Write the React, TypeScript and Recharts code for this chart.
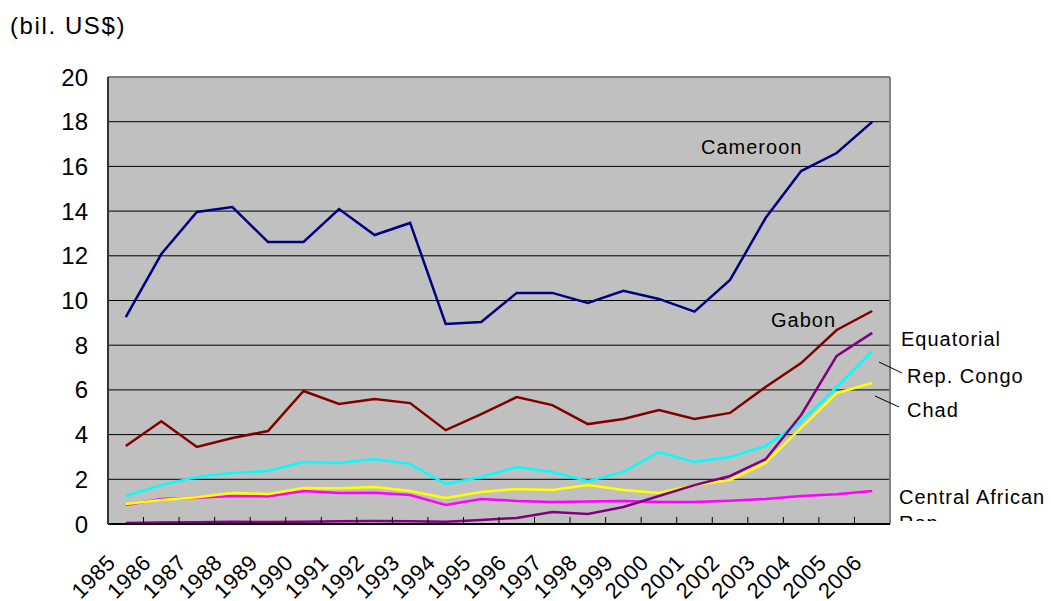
import { ComposedChart, Line, XAxis, YAxis, CartesianGrid, Customized } from 'recharts';

const years = [
  '1985', '1986', '1987', '1988', '1989', '1990', '1991', '1992', '1993', '1994', '1995',
  '1996', '1997', '1998', '1999', '2000', '2001', '2002', '2003', '2004', '2005', '2006',
];

const cameroon = [9.26, 12.08, 13.96, 14.18, 12.62, 12.62, 14.09, 12.93, 13.47, 8.95, 9.04,
  10.34, 10.34, 9.89, 10.43, 10.07, 9.5, 10.92, 13.69, 15.79, 16.6, 17.99];
const gabon = [3.49, 4.6, 3.45, 3.85, 4.16, 5.95, 5.37, 5.59, 5.41, 4.2, 4.92,
  5.68, 5.32, 4.47, 4.7, 5.1, 4.7, 4.97, 6.13, 7.2, 8.68, 9.53];
const equatorialGuinea = [0.05, 0.07, 0.08, 0.1, 0.09, 0.1, 0.12, 0.13, 0.12, 0.1, 0.18,
  0.27, 0.54, 0.45, 0.76, 1.25, 1.74, 2.15, 2.9, 4.88, 7.52, 8.55];
const repCongo = [1.25, 1.74, 2.1, 2.28, 2.37, 2.77, 2.73, 2.91, 2.68, 1.79, 2.1,
  2.55, 2.33, 1.92, 2.33, 3.22, 2.77, 3.0, 3.49, 4.6, 6.13, 7.74];
const chad = [0.89, 1.07, 1.2, 1.39, 1.34, 1.61, 1.6, 1.66, 1.48, 1.16, 1.43,
  1.57, 1.52, 1.74, 1.52, 1.39, 1.74, 1.97, 2.73, 4.3, 5.86, 6.31];
const centralAfrican = [0.85, 1.12, 1.18, 1.25, 1.23, 1.48, 1.39, 1.4, 1.3, 0.85, 1.12,
  1.03, 0.98, 1.01, 1.03, 0.98, 0.98, 1.04, 1.12, 1.25, 1.33, 1.48];

const yTicks = [0, 2, 4, 6, 8, 10, 12, 14, 16, 18, 20];

const data = years.map((year, i) => ({
  year,
  cameroon: cameroon[i],
  gabon: gabon[i],
  eq: equatorialGuinea[i],
  congo: repCongo[i],
  chad: chad[i],
  car: centralAfrican[i],
}));

const W = 1051;
const H = 601;
const LEFT = 108;
const RIGHT = 890;
const TOP = 77;
const BOTTOM = 524;
const BAND = (RIGHT - LEFT) / years.length;
const FONT = '"Liberation Sans", Arial, sans-serif';

const XTick = (props: any) => {
  const { x, payload, index } = props;
  return (
    <g>
      {index < years.length - 1 && (
        <line x1={x + BAND / 2} y1={BOTTOM} x2={x + BAND / 2} y2={BOTTOM - 7} stroke="#000" strokeWidth={1} />
      )}
      <text
        transform={`translate(${x - 9},${BOTTOM + 40}) rotate(-45)`}
        textAnchor="end"
        fontSize={22}
        fontFamily={FONT}
        fill="#000"
        letterSpacing={0.5}
      >
        {payload.value}
      </text>
    </g>
  );
};

const Notes = () => (
  <g fontFamily={FONT} fontSize={20} fill="#000" letterSpacing={1}>
    <defs>
      <clipPath id="carClip">
        <rect x={0} y={0} width={W} height={521} />
      </clipPath>
    </defs>
    <line x1={LEFT} y1={TOP} x2={RIGHT} y2={TOP} stroke="#808080" strokeWidth={2} />
    <line x1={RIGHT} y1={TOP} x2={RIGHT} y2={BOTTOM} stroke="#808080" strokeWidth={2} />
    <text x={701} y={154}>Cameroon</text>
    <text x={771} y={327}>Gabon</text>
    <text x={901} y={346}>Equatorial</text>
    <text x={907} y={383}>Rep. Congo</text>
    <text x={907} y={417}>Chad</text>
    <text x={899} y={504}>Central African</text>
    <text x={899} y={530} clipPath="url(#carClip)">Rep.</text>
    <line x1={879} y1={362} x2={902} y2={373} stroke="#000" strokeWidth={1} />
    <line x1={875} y1={396} x2={899} y2={407} stroke="#000" strokeWidth={1} />
  </g>
);

export default function App() {
  return (
    <div style={{ position: 'absolute', left: 0, top: 0, width: W, height: H, background: '#fff' }}>
      <div
        style={{
          position: 'absolute',
          left: 10,
          top: 12,
          fontFamily: FONT,
          fontSize: 24,
          color: '#000',
          letterSpacing: 1.6,
        }}
      >
        (bil. US$)
      </div>
      <ComposedChart
        width={W}
        height={H}
        data={data}
        margin={{ top: TOP, right: W - RIGHT, bottom: 0, left: 0 }}
      >
        <CartesianGrid vertical={false} stroke="#000" fill="#C0C0C0" fillOpacity={1} horizontalValues={yTicks} />
        <XAxis
          dataKey="year"
          height={H - BOTTOM}
          interval={0}
          padding={{ left: BAND / 2, right: BAND / 2 }}
          tickLine={false}
          axisLine={{ stroke: '#000', strokeWidth: 2 }}
          tick={<XTick />}
        />
        <YAxis
          width={LEFT}
          domain={[0, 20]}
          ticks={yTicks}
          interval={0}
          tickLine={false}
          tickMargin={14}
          axisLine={{ stroke: '#333', strokeWidth: 2 }}
          tick={{ fontSize: 24, fontFamily: FONT, fill: '#000' }}
        />
        <Line dataKey="car" stroke="#FF00FF" strokeWidth={2.5} dot={false} isAnimationActive={false} />
        <Line dataKey="chad" stroke="#FFFF00" strokeWidth={2.5} dot={false} isAnimationActive={false} />
        <Line dataKey="congo" stroke="#00FFFF" strokeWidth={2.5} dot={false} isAnimationActive={false} />
        <Line dataKey="eq" stroke="#800080" strokeWidth={2.5} dot={false} isAnimationActive={false} />
        <Line dataKey="gabon" stroke="#800000" strokeWidth={2.5} dot={false} isAnimationActive={false} />
        <Line dataKey="cameroon" stroke="#000080" strokeWidth={2.5} dot={false} isAnimationActive={false} />
        <Customized component={<Notes />} />
      </ComposedChart>
    </div>
  );
}
